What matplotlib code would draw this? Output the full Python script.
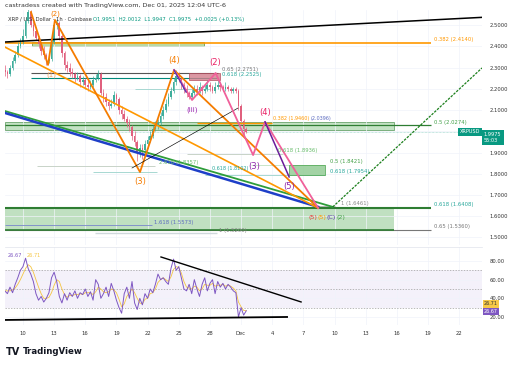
import numpy as np
import matplotlib
matplotlib.use("Agg")
import matplotlib.pyplot as plt
from matplotlib.patches import Rectangle
from matplotlib.ticker import FormatStrFormatter

# ---------------- data (day index: Nov 10 = 10, Dec 1 = 31) ----------------
start_day = 8.25
step = 0.25
closes = [2.28,2.27,2.30,2.33,2.36,2.40,2.42,2.45,2.52,2.56,
          2.50,2.47,2.44,2.41,2.38,2.36,2.33,2.34,2.42,2.50,
          2.51,2.45,2.37,2.31,2.30,2.28,2.27,2.25,2.26,2.23,
          2.24,2.22,2.21,2.22,2.24,2.25,2.27,2.18,2.16,2.14,
          2.12,2.13,2.17,2.15,2.10,2.08,2.06,2.04,2.02,1.98,
          1.95,1.90,1.92,1.91,1.94,1.96,1.98,2.01,2.03,2.04,
          2.07,2.10,2.13,2.16,2.19,2.23,2.26,2.25,2.22,2.20,
          2.18,2.16,2.18,2.20,2.19,2.21,2.19,2.20,2.22,2.21,
          2.19,2.21,2.22,2.21,2.20,2.21,2.20,2.19,2.20,2.19,
          2.12,2.05,2.01,1.9975]
first_open = 2.29
highs = [2.31,2.29,2.31,2.35,2.38,2.42,2.44,2.48,2.54,2.58,
         2.57,2.52,2.49,2.45,2.42,2.40,2.37,2.36,2.44,2.52,
         2.53,2.52,2.46,2.38,2.33,2.32,2.30,2.28,2.28,2.27,
         2.26,2.25,2.24,2.24,2.26,2.27,2.29,2.28,2.20,2.18,
         2.15,2.15,2.19,2.18,2.16,2.12,2.10,2.07,2.06,2.03,
         2.00,1.96,1.94,1.94,1.96,1.98,2.00,2.03,2.05,2.06,
         2.09,2.12,2.15,2.18,2.21,2.25,2.29,2.28,2.26,2.23,
         2.22,2.19,2.20,2.22,2.22,2.23,2.22,2.22,2.24,2.23,
         2.22,2.23,2.24,2.23,2.22,2.23,2.22,2.21,2.21,2.21,
         2.20,2.13,2.06,2.02]
lows = [2.26,2.25,2.26,2.29,2.32,2.35,2.39,2.41,2.44,2.51,
        2.49,2.45,2.43,2.39,2.36,2.34,2.31,2.32,2.33,2.41,
        2.48,2.43,2.35,2.29,2.28,2.26,2.25,2.23,2.24,2.21,
        2.22,2.20,2.19,2.20,2.21,2.23,2.24,2.17,2.14,2.12,
        2.10,2.11,2.12,2.13,2.08,2.06,2.05,2.02,2.00,1.96,
        1.93,1.86,1.88,1.87,1.90,1.92,1.95,1.97,2.00,2.01,
        2.03,2.06,2.09,2.12,2.15,2.18,2.22,2.23,2.20,2.18,
        2.16,2.15,2.15,2.17,2.17,2.18,2.17,2.18,2.19,2.19,
        2.18,2.18,2.20,2.19,2.19,2.19,2.19,2.18,2.18,2.18,
        2.10,2.03,1.98,1.99]
rsi = [48,45,52,46,55,62,70,74,83,72,
       66,58,45,38,42,36,40,46,62,68,
       58,42,35,45,38,46,42,48,40,46,
       44,50,42,47,38,60,55,40,45,52,
       42,56,48,38,30,24,45,52,40,58,
       35,28,40,33,45,40,50,46,55,66,
       60,62,58,55,72,82,70,74,62,50,
       48,55,45,60,50,42,55,62,48,56,
       60,45,58,52,56,50,55,52,48,46,
       20,30,22,26.67]
rsi_ma = [48,48,48,49,51,55,60,66,72,76,
          74,68,60,52,45,40,40,41,46,54,
          60,58,50,44,41,43,43,44,44,45,
          44,46,46,46,44,47,52,50,47,46,
          47,50,49,46,39,31,34,42,46,50,
          46,40,35,34,39,40,45,46,50,57,
          60,62,60,58,63,71,74,73,67,58,
          52,51,50,53,52,48,50,55,54,54,
          56,53,54,54,55,53,54,53,51,48,
          36,31,27,26.71]

date_ticks = [10,13,16,19,22,25,28,31,34,37,40,43,46,49,52]
date_labels = ['10','13','16','19','22','25','28','Dec','4','7','10','13','16','19','22']
price_ticks = [1.5,1.6,1.7,1.8,1.9,2.0,2.1,2.2,2.3,2.4,2.5]
price_labels = ['1.5000','1.6000','1.7000','1.8000','1.9000','','2.1000','2.2000','2.3000','2.4000','2.5000']
rsi_ticks = [20,40,60,80]

# annotation geometry (day, price)
x_left, x_right = 8.27, 54.2
top_trend_d, top_trend_p = [8.27, 54.2], [2.42, 2.536]
orange_wave_d = [10.77, 12.41, 13.08, 21.27, 24.55, 38.42]
orange_wave_p = [2.561, 2.312, 2.524, 1.808, 2.288, 1.639]
orange_chan_d, orange_chan_p = [8.27, 38.42], [2.396, 1.639]
pink_wave_d = [24.55, 26.28, 28.55, 32.16, 33.31, 38.42]
pink_wave_p = [2.288, 2.147, 2.274, 1.888, 2.044, 1.639]
purple_a_d, purple_a_p = [24.55, 25.7], [2.288, 2.185]
purple_b_d, purple_b_p = [33.31, 35.63], [2.044, 1.785]
blue_diag_d, blue_diag_p = [8.27, 38.42], [2.086, 1.644]
green_diag_d, green_diag_p = [8.27, 39.83], [2.095, 1.644]
green_up_d, green_up_p = [39.83, 54.2], [1.644, 2.298]
thin_black_d, thin_black_p = [20.5, 30.7], [1.827, 2.109]
rsi_upper_d, rsi_upper_v = [23.29, 36.78], [84.3, 36.1]
rsi_lower_d, rsi_lower_v = [8.27, 35.43], [16.8, 20.0]

# ---------------------------------------------------------------------------
W, H = 512, 367
fig = plt.figure(figsize=(W/100, H/100), dpi=100)
fig.patch.set_facecolor('white')
ax = fig.add_axes([5/W, 1-245/H, 477/W, 235/H])
axr = fig.add_axes([5/W, 1-325/H, 477/W, 78/H], sharex=ax)

n = len(closes)
days = start_day + step*np.arange(n)
opens = [first_open] + closes[:-1]
up_col, dn_col = '#3fae9c', '#e0607e'
cols = [up_col if c >= o else dn_col for o, c in zip(opens, closes)]
ax.vlines(days, lows, highs, colors=cols, lw=0.5, zorder=3)
bott = [min(o, c) for o, c in zip(opens, closes)]
hgt = [max(abs(c-o), 0.003) for o, c in zip(opens, closes)]
ax.bar(days, hgt, bottom=bott, width=0.16, color=cols, lw=0, zorder=3)

def hline(p, d0, d1, color, lw=0.7, z=2, **kw):
    ax.plot([d0, d1], [p, p], color=color, lw=lw, zorder=z, solid_capstyle='butt', **kw)

def rect(d0, d1, p0, p1, fc, ec, alpha=0.7, lw=0.6, z=1):
    ax.add_patch(Rectangle((d0, p0), d1-d0, p1-p0, facecolor=fc, edgecolor=ec,
                           alpha=alpha, lw=lw, zorder=z))

def lab(d, p, s, color, fs=3.8, va='bottom', ha='left', **kw):
    ax.text(d, p, s, color=color, fontsize=fs, va=va, ha=ha, zorder=8, **kw)

# zones and fib lines
rect(10.87, 27.44, 2.402, 2.42, '#a8d08d', '#558b2f', alpha=0.8)
hline(2.414, x_left, 49.3, '#ff9800', lw=1.2)
lab(49.6, 2.418, '0.382 (2.4140)', '#ff9800')
hline(2.2751, 10.8, 28.8, '#555555', lw=0.8)
hline(2.2525, 10.8, 28.8, '#00897b', lw=0.8)
lab(29.17, 2.279, '0.65 (2.2751)', '#777777')
lab(29.17, 2.256, '0.618 (2.2525)', '#26a69a')
rect(26.0, 29.0, 2.241, 2.274, '#d37f8c', '#b04a5a', alpha=0.8, z=2)
hline(2.199, 20.8, 28.0, '#a7d8d2', lw=0.7)
rect(x_left, 45.7, 2.006, 2.044, '#b5dbb6', '#2e7d32', alpha=0.8, lw=0.5)
hline(2.0274, x_left, 49.3, '#2e7d32', lw=0.9)
lab(49.6, 2.031, '0.5 (2.0274)', '#43a047')
hline(1.9975, x_left, x_right, '#8fd0c5', lw=0.5, ls=(0, (1, 1)))
hline(2.0396, 26.8, 34.0, '#ff9800', lw=1.0, z=4)
lab(34.1, 2.046, '0.382 (1.9460)', '#ff9800', fs=3.5)
lab(37.7, 2.046, '(2.0396)', '#5c6bc0', fs=3.5)
hline(1.8357, 11.35, 22.7, '#c8d3c8', lw=0.7)
hline(1.81, 16.7, 22.9, '#a7d8d2', lw=0.7)
lab(23.1, 1.840, '2.618 (1.8357)', '#66bb6a')
hline(1.8936, 25.8, 35.0, '#c8d3c8', lw=0.7)
lab(34.6, 1.898, '0.618 (1.8936)', '#66bb6a')
lab(28.2, 1.815, '0.618 (1.8102)', '#26a69a', fs=3.5)
hline(1.8421, 32.0, 39.1, '#c8e6c9', lw=0.7)
hline(1.7954, 27.5, 39.1, '#a7d8d2', lw=0.7)
rect(35.6, 39.1, 1.7954, 1.8421, '#8cc98f', '#43a047', alpha=0.8, z=2)
lab(39.6, 1.846, '0.5 (1.8421)', '#43a047')
lab(39.6, 1.799, '0.618 (1.7954)', '#26a69a')
rect(x_left, 45.7, 1.536, 1.6408, '#b5dbb6', '#b5dbb6', alpha=0.85, lw=0)
hline(1.536, x_left, 49.3, '#777777', lw=0.8)
hline(1.536, x_left, 45.7, '#2e7d32', lw=1.2)
hline(1.6408, x_left, 49.3, '#2e7d32', lw=1.5, z=3)
lab(49.6, 1.645, '0.618 (1.6408)', '#26a69a')
lab(49.6, 1.540, '0.65 (1.5360)', '#777777')
hline(1.5573, x_left, 22.4, '#7986cb', lw=0.6)
lab(22.6, 1.560, '1.618 (1.5573)', '#5c6bc0')
hline(1.52, 16.9, 28.7, '#cfd8dc', lw=1.0)
lab(28.9, 1.522, '1 (1.5200)', '#888888')
hline(1.6461, 38.4, 40.0, '#999999', lw=0.5)
lab(40.6, 1.650, '1 (1.6461)', '#888888')

# diagonal lines
ax.plot(top_trend_d, top_trend_p, color='black', lw=1.1, zorder=4)
ax.plot(green_diag_d, green_diag_p, color='#2e9d3a', lw=1.3, zorder=4)
ax.plot(blue_diag_d, blue_diag_p, color='#1e3fc8', lw=1.8, zorder=4)
ax.plot(green_up_d, green_up_p, color='#1b7f1b', lw=0.9, ls=(0, (2, 1)), zorder=4)
ax.plot(orange_chan_d, orange_chan_p, color='#ff9800', lw=1.2, zorder=5)
ax.plot(orange_wave_d, orange_wave_p, color='#f57c00', lw=1.3, zorder=5)
ax.plot(thin_black_d, thin_black_p, color='black', lw=0.45, zorder=5)
ax.plot(pink_wave_d, pink_wave_p, color='#f0609a', lw=1.3, zorder=6)
ax.plot(purple_a_d, purple_a_p, color='#5e35b1', lw=1.0, zorder=6)
ax.plot(purple_b_d, purple_b_p, color='#6a1b9a', lw=1.1, zorder=6)

# wave labels
def wl(d, p, s, color, fs=6):
    ax.text(d, p, s, color=color, fontsize=fs, ha='center', va='center', zorder=9, clip_on=True)
wl(24.6, 2.335, '(4)', '#f57c00')
wl(28.5, 2.322, '(2)', '#e91e63')
wl(13.1, 2.553, '(2)', '#f57c00', fs=5)
wl(12.7, 2.265, '(1)', '#f5a35c', fs=5)
wl(21.3, 1.762, '(3)', '#f57c00')
wl(26.3, 2.100, '(iii)', '#9c27b0', fs=5)
wl(33.3, 2.086, '(4)', '#e91e63')
wl(32.3, 1.832, '(3)', '#8e24aa')
wl(35.6, 1.738, '(5)', '#8e24aa')
wl(37.9, 1.592, '(5)', '#e53935', fs=4.6)
wl(38.8, 1.592, '(5)', '#ff9800', fs=4.6)
wl(39.7, 1.592, '(C)', '#5e35b1', fs=4.6)
wl(40.65, 1.592, '(2)', '#43a047', fs=4.6)

ax.set_xlim(x_left, x_right)
ax.set_ylim(1.4647, 2.5706)
ax.yaxis.tick_right()
ax.set_yticks(price_ticks)
ax.set_yticklabels(price_labels)
ax.tick_params(axis='y', length=0, labelsize=3.8, labelcolor='#333333', pad=5.5)
ax.tick_params(axis='x', length=0, labelbottom=False)
ax.set_xticks(date_ticks)
ax.grid(color='#f0f3fa', lw=0.5, zorder=0)
for s in ax.spines.values():
    s.set_visible(False)

# current price markers
ax.text(0.997, 1.9975, 'XRPUSD', transform=ax.get_yaxis_transform(), ha='right', va='center',
        fontsize=3.6, color='white', zorder=10,
        bbox=dict(boxstyle='square,pad=0.35', fc='#089981', ec='none'))
ax.text(1.004, 1.9975, '1.9975\n55:03', transform=ax.get_yaxis_transform(), ha='left', va='top',
        fontsize=3.6, color='white', zorder=10, linespacing=1.2, clip_on=False,
        bbox=dict(boxstyle='square,pad=0.45', fc='#089981', ec='none'))

# ---------------- RSI pane ----------------
axr.axhspan(30, 70, color='#7e57c2', alpha=0.08, lw=0)
for lvl in (70, 50, 30):
    axr.axhline(lvl, color='#9e9e9e', lw=0.5, ls=(0, (2, 2)))
axr.plot(days, rsi_ma, color='#f5c542', lw=0.6, zorder=3)
axr.plot(days, rsi, color='#7e57c2', lw=0.7, zorder=4)
axr.plot(rsi_upper_d, rsi_upper_v, color='black', lw=1.0, zorder=5)
axr.plot(rsi_lower_d, rsi_lower_v, color='black', lw=1.3, zorder=5)
axr.text(0.006, 0.885, '26.67', transform=axr.transAxes, color='#7e57c2', fontsize=3.6, va='center')
axr.text(0.045, 0.885, '26.71', transform=axr.transAxes, color='#f5c542', fontsize=3.6, va='center')
axr.set_ylim(11.4, 95)
axr.yaxis.tick_right()
axr.set_yticks(rsi_ticks)
axr.yaxis.set_major_formatter(FormatStrFormatter('%.2f'))
axr.tick_params(axis='y', length=0, labelsize=3.8, labelcolor='#333333', pad=5.5)
axr.set_xticks(date_ticks)
axr.set_xticklabels(date_labels)
axr.tick_params(axis='x', length=0, labelsize=3.8, labelcolor='#333333', pad=4)
axr.grid(color='#f0f3fa', lw=0.5, zorder=0)
for s in axr.spines.values():
    s.set_visible(False)
axr.spines['top'].set_visible(True)
axr.spines['top'].set_color('#e0e3eb')
axr.spines['top'].set_linewidth(0.5)
axr.text(1.004, 34.0, '26.71', transform=axr.get_yaxis_transform(), ha='left', va='center',
         fontsize=3.5, color='#333333', zorder=10, clip_on=False,
         bbox=dict(boxstyle='square,pad=0.25', fc='#f7c948', ec='none'))
axr.text(1.004, 25.8, '26.67', transform=axr.get_yaxis_transform(), ha='left', va='center',
         fontsize=3.5, color='white', zorder=10, clip_on=False,
         bbox=dict(boxstyle='square,pad=0.25', fc='#7e57c2', ec='none'))

# ---------------- header / footer ----------------
fig.text(5/W, 1-5/H, 'castradess created with TradingView.com, Dec 01, 2025 12:04 UTC-6',
         fontsize=4.6, color='#333333', va='center')
fig.text(8/W, 1-19/H, 'XRP / U.S. Dollar · 1h · Coinbase', fontsize=3.8, color='#333333', va='center')
fig.text(93/W, 1-19/H, 'O1.9951  H2.0012  L1.9947  C1.9975  +0.0025 (+0.13%)',
         fontsize=3.8, color='#089981', va='center')
fig.text(6/W, 1-352/H, 'TV', fontsize=7, fontweight='heavy', color='#131722', va='center')
fig.text(23/W, 1-352/H, 'TradingView', fontsize=6.2, fontweight='bold', color='#131722', va='center')

fig.savefig('out.png', dpi=100)
